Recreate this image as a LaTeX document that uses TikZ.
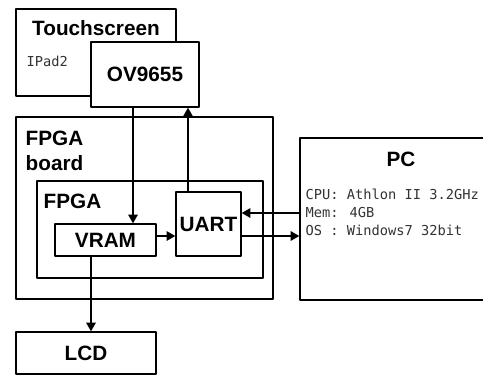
\documentclass[tikz,border=0pt]{standalone}
\usepackage{fontspec}
\setmainfont{Liberation Sans}
\newfontfamily\monofont{DejaVu Sans Mono}
\usetikzlibrary{arrows.meta}

\begin{document}
\begin{tikzpicture}[x=0.02cm, y=-0.02cm, >={Triangle[length=5pt,width=5.5pt]},
        line width=0.8pt, line join=round,
        box/.style={draw, fill=white, inner sep=1pt, font=\bfseries\fontsize{11.8}{14.2}\selectfont},
        title/.style={inner sep=0pt, font=\bfseries\fontsize{11.8}{14.2}\selectfont, align=left},
        spec/.style={inner sep=0pt, text=black!80, font=\monofont\fontsize{7.8}{10.4}\selectfont, align=left}]
        \clip (0,0) rectangle (483,376);
        % boxes
        \node[box, minimum width=3.2cm, minimum height=1.74cm] (ts) at (96,52.5) {};
        \node[box, minimum width=2.16cm, minimum height=1.3cm] (ov) at (145,74.5) {OV9655};
        \node[box, minimum width=5.14cm, minimum height=3.64cm] (board) at (144.5,208) {};
        \node[box, minimum width=4.52cm, minimum height=1.94cm] (fpga) at (150,229.5) {};
        \node[box, minimum width=2.02cm, minimum height=0.64cm] (vram) at (105.5,240) {VRAM};
        \node[box, minimum width=1.3cm, minimum height=1.28cm] (uart) at (208.5,224) {UART};
        \node[box, minimum width=4.4cm, minimum height=3.24cm] (pc) at (410,219) {};
        \node[box, minimum width=2.8cm, minimum height=0.84cm] (lcd) at (86,353) {LCD};
        % texts
        \node[title] (tstitle) at (96,28) {Touchscreen};
        \node[spec, anchor=west] (ipad) at (26,61) {IPad2};
        \node[title, anchor=north west] (boardtitle) at (25,130) {FPGA\\board};
        \node[title, anchor=west] (fpgatitle) at (43,201) {FPGA};
        \node[title] (pctitle) at (401,159) {PC};
        \node[spec, anchor=north west] (pcspec) at (305,188) {CPU: Athlon II 3.2GHz\\Mem: 4GB\\OS : Windows7 32bit};
        % connectors
        \coordinate (xa) at (133,0);
        \coordinate (xb) at (188,0);
        \coordinate (xc) at (91,0);
        \coordinate (ya) at (0,213);
        \coordinate (yb) at (0,236);
        \draw[->] (ov.south -| xa) -- (vram.north -| xa);
        \draw[->] (uart.north -| xb) -- (ov.south -| xb);
        \draw[->] (vram.east |- yb) -- (uart.west |- yb);
        \draw[->] (pc.west |- ya) -- (uart.east |- ya);
        \draw[->] (uart.east |- yb) -- (pc.west |- yb);
        \draw[->] (vram.south -| xc) -- (lcd.north -| xc);
\end{tikzpicture}
\end{document}
